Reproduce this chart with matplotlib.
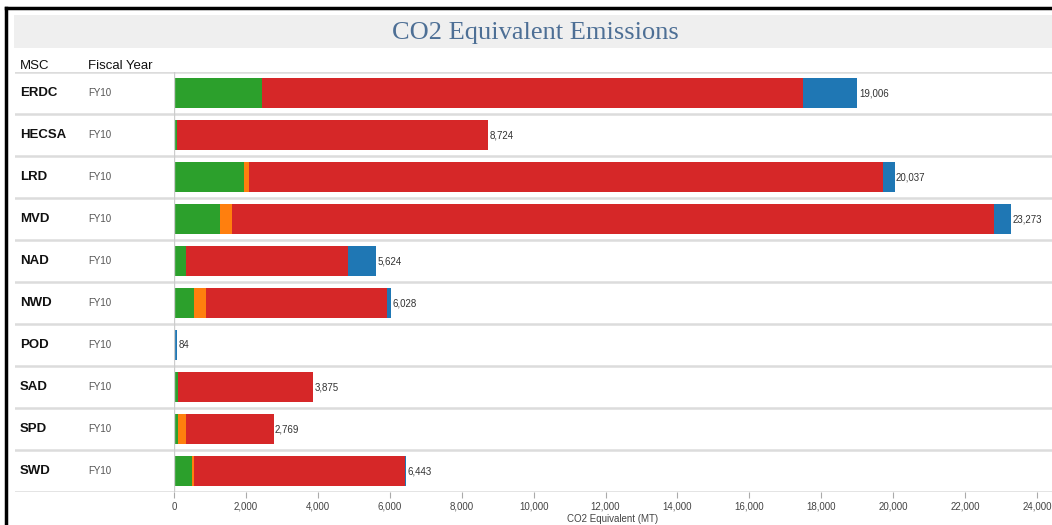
import matplotlib
matplotlib.use("Agg")
import matplotlib.pyplot as plt
from matplotlib.patches import Rectangle
from matplotlib.lines import Line2D
from matplotlib.ticker import FuncFormatter

msc = ['ERDC', 'HECSA', 'LRD', 'MVD', 'NAD', 'NWD', 'POD', 'SAD', 'SPD', 'SWD']
fiscal_year = ['FY10'] * len(msc)

# emission components per MSC (MT CO2e), stacked left to right
green = [2440, 80, 1935, 1286, 333, 564, 0, 120, 120, 490]
orange = [0, 0, 155, 324, 0, 316, 0, 0, 220, 80]
red = [15060, 8644, 17625, 21187, 4492, 5056, 40, 3755, 2429, 5850]
blue = [1506, 0, 322, 476, 799, 92, 44, 0, 0, 23]
totals = [19006, 8724, 20037, 23273, 5624, 6028, 84, 3875, 2769, 6443]

colors = ['#2ca02c', '#ff7f0e', '#d62728', '#1f77b4']

W, H = 1052, 525
fig = plt.figure(figsize=(W / 100, H / 100), dpi=100)
plt.rcParams['font.family'] = ['Liberation Sans', 'DejaVu Sans']

# title band
fig.add_artist(Rectangle((14 / W, 1 - 48 / H), (W - 14) / W, 33 / H,
                         transform=fig.transFigure, facecolor='#efefef',
                         edgecolor='none'))
fig.text(535 / W, 1 - 33 / H, 'CO2 Equivalent Emissions', ha='center',
         va='center', fontsize=19, color='#4d6f95', family='Liberation Serif')

# black frame on the left and top
fig.add_artist(Line2D([6 / W, 6 / W], [0, 1 - 8 / H], transform=fig.transFigure,
                      color='black', lw=2.5))
fig.add_artist(Line2D([6 / W, 1], [1 - 8 / H, 1 - 8 / H], transform=fig.transFigure,
                      color='black', lw=2.5))

top_px, bot_px = 72, 492
n = len(msc)

# row table behind the bars
bg = fig.add_axes([15 / W, (H - bot_px) / H, (W - 15) / W, (bot_px - top_px) / H])
bg.set_xlim(0, 1)
bg.set_ylim(n - 0.5, -0.5)
bg.axis('off')
for k in range(n + 1):
    bg.axhline(k - 0.5, color='#dcdcdc', lw=1.8)
for i, (name, fy) in enumerate(zip(msc, fiscal_year)):
    bg.text(5 / (W - 15), i, name, fontsize=9.5, fontweight='bold', va='center',
            color='#111111')
    bg.text(73 / (W - 15), i, fy, fontsize=7, va='center', color='#555555')
bg.text(5 / (W - 15), -0.5, 'MSC', fontsize=9.5, va='bottom', color='#111111')
bg.text(73 / (W - 15), -0.5, 'Fiscal Year', fontsize=9.5, va='bottom',
        color='#111111')

# stacked bars
x0 = 174
ax = fig.add_axes([x0 / W, (H - bot_px) / H, (W - x0) / W, (bot_px - top_px) / H])
ax.patch.set_alpha(0)
ax.set_ylim(n - 0.5, -0.5)
ax.set_xlim(0, (W - x0) / 0.03596)
ys = list(range(n))
left = [0] * n
for vals, c in zip([green, orange, red, blue], colors):
    ax.barh(ys, vals, left=left, height=0.72, color=c, edgecolor='none')
    left = [l + v for l, v in zip(left, vals)]
for y, t in zip(ys, totals):
    ax.text(t + 40, y, '{:,}'.format(t), fontsize=7, va='center', color='#333333')

ax.axvline(0, color='#cccccc', lw=1)
for s in ax.spines.values():
    s.set_visible(False)
ax.set_yticks([])
ax.set_xticks(range(0, 24001, 2000))
ax.xaxis.set_major_formatter(FuncFormatter(lambda v, p: '{:,}'.format(int(v))))
ax.tick_params(axis='x', labelsize=7, colors='#aaaaaa', labelcolor='#444444',
               length=4, pad=3)
ax.set_xlabel('CO2 Equivalent (MT)', fontsize=7, color='#444444', labelpad=2)

fig.savefig('out.png', dpi=100)
